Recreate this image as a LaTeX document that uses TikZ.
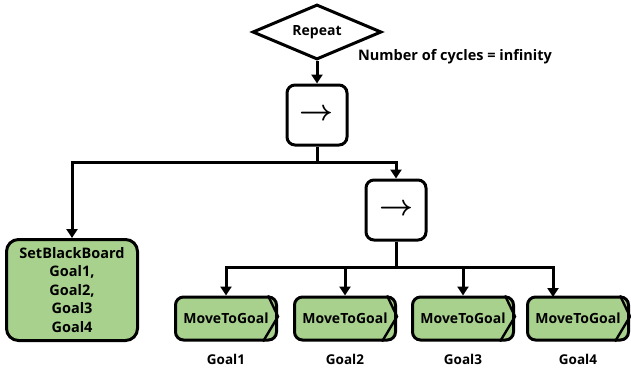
\documentclass[tikz,border=0pt]{standalone}
\usepackage{amsmath}
\usepackage{fontspec}
\usepackage{graphicx}
\setmainfont{Open Sans}
\usetikzlibrary{shapes.geometric,arrows.meta}
\definecolor{leafgreen}{HTML}{A9D18E}
\tikzset{
    link/.style={line width=3pt,-{Triangle[length=9pt,width=11pt]}},
    bus/.style={line width=3pt},
    repeatbox/.style={diamond,draw,line width=3pt,aspect=2.35,minimum width=129pt,minimum height=55pt,inner sep=0pt,font=\bfseries\fontsize{14}{16}\selectfont},
    seqbox/.style={rectangle,draw,line width=3pt,rounded corners=8pt,minimum width=60pt,minimum height=60pt,inner sep=0pt},
    actionbox/.style={rectangle,draw,fill=leafgreen,line width=3pt,rounded corners=8pt,minimum width=101pt,minimum height=43pt,inner sep=0pt,font=\bfseries\fontsize{14}{16}\selectfont},
    setbox/.style={rectangle,draw,fill=leafgreen,line width=3pt,rounded corners=12pt,minimum width=131pt,minimum height=101pt,inner sep=0pt,align=center,font=\bfseries\fontsize{14.5}{18.5}\selectfont},
    goallabel/.style={font=\bfseries\fontsize{13.5}{15}\selectfont},
}
\newcommand{\seqsign}{\resizebox{34pt}{!}{$\boldsymbol{\rightarrow}$}}
\begin{document}
\begin{tikzpicture}[x=1pt,y=-1pt]
            \useasboundingbox (0,0) rectangle (631,369);
            % root and sequences
            \node (rep) at (317,32) [repeatbox] {Repeat};
            \node (cyc) at (455,57) [font=\bfseries\fontsize{14.5}{16}\selectfont] {Number of cycles = infinity};
            \node (seq1) at (317,115) [seqbox] {\seqsign};
            \node (seq2) at (396,210) [seqbox] {\seqsign};
            % leaves
            \node (sbb) at (72,290) [setbox] {SetBlackBoard\\Goal1,\\Goal2,\\Goal3\\Goal4};
            \node (m1) at (226,318.5) [actionbox] {MoveToGoal};
            \node (m2) at (345,318.5) [actionbox] {MoveToGoal};
            \node (m3) at (463,318.5) [actionbox] {MoveToGoal};
            \node (m4) at (578,318.5) [actionbox] {MoveToGoal};
            \foreach \i in {1,...,4} {
                \draw[line width=2.4pt] ([xshift=-10pt]m\i.north east) -- ([yshift=2pt]m\i.east) -- ([xshift=-15pt]m\i.south east);
                \node (g\i) at ([yshift=-18pt]m\i.south) [goallabel] {Goal\i};
            }
            % connectors
            \coordinate (bus1) at (317,162);
            \coordinate (bus2) at (396,267);
            \coordinate (in4) at (553,297);
            \draw[link] (rep.south) -- (seq1.north);
            \draw[bus] (seq1.south) -- (bus1);
            \draw[link] (bus1) -| (sbb.north);
            \draw[link] (bus1) -| (seq2.north);
            \draw[bus] (seq2.south) -- (bus2);
            \draw[link] (bus2) -| (m1.north);
            \draw[link] (bus2) -| (m2.north);
            \draw[link] (bus2) -| (m3.north);
            \draw[link] (bus2) -| (in4);
\end{tikzpicture}
\end{document}
